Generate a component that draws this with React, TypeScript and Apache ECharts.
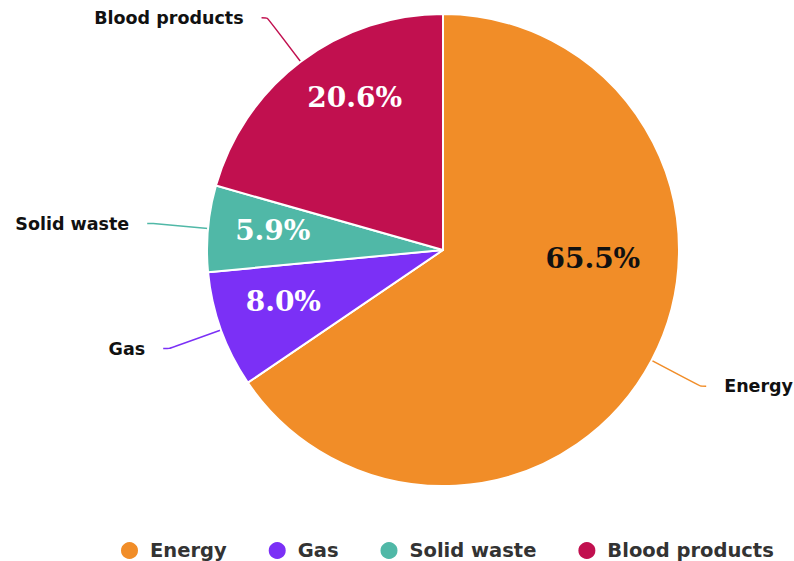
import React, { useEffect, useRef } from "react";
import * as echarts from "echarts";

const categories = ["Energy", "Gas", "Solid waste", "Blood products"];
const values = [65.5, 8.0, 5.9, 20.6];
const colors = ["#F18D28", "#7B30F6", "#50B8A7", "#C1104F"];
const percentColors = ["#111111", "#ffffff", "#ffffff", "#ffffff"];
// label nudges [dx, dy] in px (styling only)
const labelNudges = [
  [-3, -72],
  [3, -7],
  [2, -4],
  [16, -15],
];

export default function App() {
  const ref = useRef<HTMLDivElement>(null);
  useEffect(() => {
    if (!ref.current) return;
    const chart = echarts.init(ref.current, null, { renderer: "svg" });
    const R = 236;
    const center = [443, 250];
    const baseData = categories.map((name, i) => ({
      name,
      value: values[i],
      itemStyle: { color: colors[i] },
    }));
    const pctData = categories.map((name, i) => ({
      name,
      value: values[i],
    }));
    const pctFormatter = (p: any) => {
      const i = p.dataIndex;
      const [dx, dy] = labelNudges[i];
      const txt = Number(p.value).toFixed(1) + "%";
      const style = i === 0 ? "dk" : "wt";
      let line = `{${style}|${txt}}`;
      if (dx > 0) line = `{w${i}|}` + line;
      if (dx < 0) line = line + `{w${i}|}`;
      if (dy < 0) return line + `\n{h${i}|}`;
      if (dy > 0) return `{h${i}|}\n` + line;
      return line;
    };
    const rich: any = {
      dk: { fontFamily: "DejaVu Serif", fontWeight: "bold", fontSize: 28, color: percentColors[0] },
      wt: { fontFamily: "DejaVu Serif", fontWeight: "bold", fontSize: 28, color: "#ffffff" },
    };
    labelNudges.forEach(([dx, dy], i) => {
      rich["w" + i] = { width: Math.abs(dx) * 2, height: 1 };
      rich["h" + i] = { height: Math.abs(dy) * 2, fontSize: 1, lineHeight: Math.abs(dy) * 2 };
    });
    chart.setOption({
      animation: false,
      backgroundColor: "#ffffff",
      legend: {
        data: categories.map((name, i) => ({ name, itemStyle: { color: colors[i] } })),
        top: 535,
        left: 114,
        icon: "circle",
        itemWidth: 19,
        itemHeight: 19,
        itemGap: 40,
        textStyle: {
          fontFamily: "DejaVu Sans",
          fontWeight: "bold",
          fontSize: 19.5,
          color: "#333333",
          padding: [0, 0, 0, 6],
        },
      },
      series: [
        {
          type: "pie",
          name: "base",
          center,
          radius: [0, R],
          startAngle: 90,
          clockwise: true,
          avoidLabelOverlap: false,
          itemStyle: { borderColor: "#ffffff", borderWidth: 2 },
          label: {
            show: true,
            position: "outside",
            formatter: "{b}",
            fontFamily: "DejaVu Sans",
            fontWeight: "bold",
            fontSize: 17.5,
            color: "#111111",
            padding: [0, 13],
          },
          labelLine: { show: true, length: 55, length2: 6, smooth: 0.2, lineStyle: { width: 1.5 } },
          emphasis: { disabled: true },
          data: baseData,
        },
        {
          type: "pie",
          name: "pct",
          center,
          radius: [R * 0.44, R],
          startAngle: 90,
          clockwise: true,
          silent: true,
          avoidLabelOverlap: false,
          itemStyle: { color: "transparent", borderWidth: 0 },
          label: {
            show: true,
            position: "inside",
            formatter: pctFormatter,
            rich,
          },
          labelLine: { show: false },
          emphasis: { disabled: true },
          data: pctData,
        },
      ],
    });
    return () => chart.dispose();
  }, []);
  return (
    <div
      ref={ref}
      style={{ position: "fixed", left: 0, top: 0, width: 794, height: 561 }}
    />
  );
}
